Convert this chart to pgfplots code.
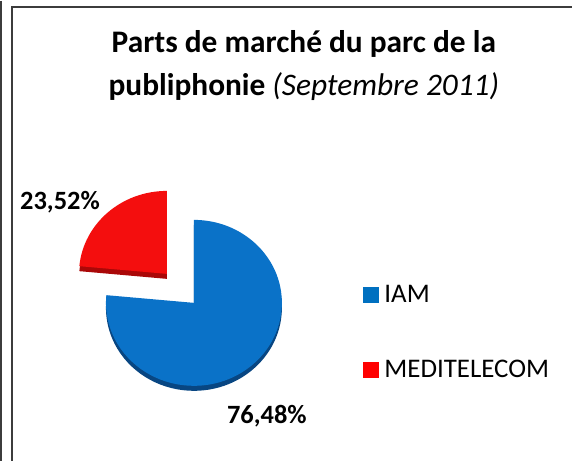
\documentclass[border=0pt]{standalone}
\usepackage{pgfplots}
\pgfplotsset{compat=1.18}
\usepackage{pgfplotstable}
\usepackage{fontspec}
\setmainfont{Carlito}
\definecolor{iamblue}{RGB}{10,114,200}
\definecolor{iamdark}{RGB}{8,70,130}
\definecolor{medred}{RGB}{244,14,14}
\definecolor{meddark}{RGB}{170,8,8}
\definecolor{legblue}{RGB}{0,112,192}
\definecolor{legred}{RGB}{255,0,0}
\definecolor{framegray}{RGB}{60,60,60}

\pgfplotstableread{
label value
IAM 76.48
MEDITELECOM 23.52
}\piedata

\begin{document}
\begin{tikzpicture}
\pgfplotstablegetelem{0}{value}\of\piedata
\pgfmathsetmacro{\va}{\pgfplotsretval}
\pgfplotstablegetelem{1}{value}\of\piedata
\pgfmathsetmacro{\vb}{\pgfplotsretval}
\pgfmathsetmacro{\aend}{90-3.6*\va}
\pgfmathsetmacro{\bend}{\aend-3.6*\vb}
\begin{axis}[
  hide axis, scale only axis,
  width=573bp, height=460bp,
  xmin=0, xmax=573, ymin=0, ymax=460,
  y dir=reverse, clip=false,
  legend style={draw=none, fill=none, at={(axis cs:364,282)}, anchor=north west,
    font=\fontsize{27}{32}\selectfont, inner sep=0pt, row sep=52bp,
    /tikz/every odd column/.append style={column sep=4bp}},
  legend cell align=left,
  legend image code/.code={\fill[#1] (0bp,-7.5bp) rectangle (15bp,7.5bp);},
]
\addlegendimage{legblue}
\addlegendentry{IAM}
\addlegendimage{legred}
\addlegendentry{MEDITELECOM}
% frame
\draw[framegray, line width=2bp] (axis cs:2,0) -- (axis cs:2,460);
\draw[framegray, line width=2.5bp] (axis cs:13,460) -- (axis cs:13,6) -- (axis cs:573,6);
% blue slice (IAM)
\fill[iamdark] (axis cs:195,307) -- ++(90:88bp and 83bp)
  arc[start angle=90, end angle=\aend, x radius=88bp, y radius=83bp] -- cycle;
\fill[iamblue] (axis cs:195,302) -- ++(90:88bp and 83bp)
  arc[start angle=90, end angle=\aend, x radius=88bp, y radius=83bp] -- cycle;
% red slice (MEDITELECOM), exploded
\fill[meddark] (axis cs:168,278) -- ++(\aend:88bp and 83bp)
  arc[start angle=\aend, end angle=\bend, x radius=88bp, y radius=83bp] -- cycle;
\fill[medred] (axis cs:168,273) -- ++(\aend:88bp and 83bp)
  arc[start angle=\aend, end angle=\bend, x radius=88bp, y radius=83bp] -- cycle;
% labels
\node[anchor=base west, inner sep=0pt, font=\bfseries\fontsize{26.5}{31}\selectfont] at (axis cs:21,209) {23,52\%};
\node[anchor=base west, inner sep=0pt, font=\bfseries\fontsize{26.5}{31}\selectfont] at (axis cs:228,423) {76,48\%};
% title
\node[anchor=base, inner sep=0pt, font=\bfseries\fontsize{31.5}{36}\selectfont] at (axis cs:305,52) {Parts de march\'e du parc de la};
\node[anchor=base, inner sep=0pt, font=\fontsize{31.5}{36}\selectfont] at (axis cs:305,95) {\textbf{publiphonie} \textit{(Septembre 2011)}};
\end{axis}
\end{tikzpicture}
\end{document}
